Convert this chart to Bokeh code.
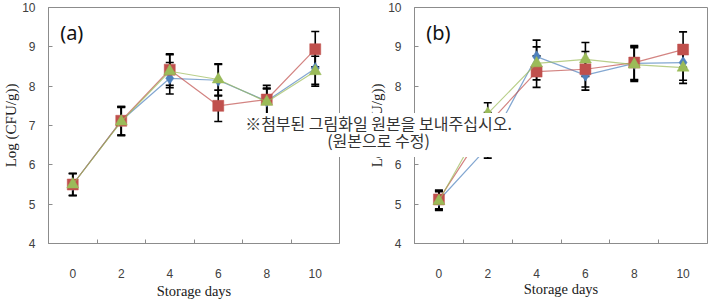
from bokeh.plotting import figure
from bokeh.models import Range1d, FixedTicker, Whisker, ColumnDataSource, Label, TeeHead, Div
from bokeh.layouts import row
from bokeh.embed import file_html
from bokeh.resources import INLINE

# ---- data -------------------------------------------------------------
days = [0, 2, 4, 6, 8, 10]
between_ticks = [1, 3, 5, 7, 9]
y_ticks = [4, 5, 6, 7, 8, 9, 10]

# panel (a): mean log counts and error half-widths
a_blue = [5.50, 7.12, 8.20, 8.15, 7.62, 8.45]
a_blue_err = [0.28, 0.36, 0.40, 0.40, 0.33, 0.40]
a_red = [5.50, 7.12, 8.42, 7.50, 7.66, 8.94]
a_red_err = [0.28, 0.36, 0.40, 0.40, 0.36, 0.45]
a_green = [5.50, 7.10, 8.38, 8.17, 7.60, 8.38]
a_green_err = [0.28, 0.36, 0.42, 0.40, 0.33, 0.38]

# panel (b)
b_blue = [5.10, 6.45, 8.75, 8.28, 8.58, 8.60]
b_blue_err = [0.24, 0.28, 0.42, 0.38, 0.43, 0.45]
b_red = [5.12, 7.03, 8.37, 8.43, 8.60, 8.93]
b_red_err = [0.24, 0.30, 0.40, 0.45, 0.43, 0.45]
b_green = [5.08, 7.30, 8.58, 8.68, 8.55, 8.47]
b_green_err = [0.24, 0.28, 0.42, 0.43, 0.43, 0.40]

x_title = "Storage days"
y_title = "Log (CFU/g))"
note_lines = ["※첨부된 그림화일 원본을 보내주십시오.", "(원본으로 수정)"]

# ---- styling ----------------------------------------------------------
BLUE, RED, GREEN = "#4F81BD", "#C0504D", "#9BBB59"
FRAME = "#8C8C8C"
TICK_TXT = "#404040"
TOTAL_H = 301


def make_panel(tag, series, width, left, right, bottom, title_standoff):
    p = figure(width=width, height=TOTAL_H, title=None,
               x_range=Range1d(-1, 11), y_range=Range1d(4, 10),
               min_border_left=left, min_border_right=right,
               min_border_top=7, min_border_bottom=bottom,
               toolbar_location=None, output_backend="svg")
    p.background_fill_color = "white"
    p.border_fill_color = "white"
    p.outline_line_color = FRAME
    p.xgrid.visible = False
    p.ygrid.visible = False

    xa = p.xaxis[0]
    xa.ticker = FixedTicker(ticks=days, minor_ticks=between_ticks)
    xa.major_tick_in = 0
    xa.major_tick_out = 0
    xa.minor_tick_in = 4
    xa.minor_tick_out = 0
    xa.minor_tick_line_color = FRAME
    xa.axis_line_color = FRAME
    xa.major_label_standoff = 25
    xa.major_label_text_font = "Liberation Sans"
    xa.major_label_text_font_size = "12px"
    xa.major_label_text_color = TICK_TXT
    xa.axis_label = x_title
    xa.axis_label_text_font = "Liberation Serif"
    xa.axis_label_text_font_style = "normal"
    xa.axis_label_text_font_size = "14.5px"
    xa.axis_label_text_color = "#202020"
    xa.axis_label_standoff = title_standoff

    ya = p.yaxis[0]
    ya.ticker = FixedTicker(ticks=y_ticks, minor_ticks=[])
    ya.major_tick_in = 4
    ya.major_tick_out = 0
    ya.major_tick_line_color = FRAME
    ya.axis_line_color = FRAME
    ya.major_label_standoff = 13
    ya.major_label_text_font = "Liberation Sans"
    ya.major_label_text_font_size = "12px"
    ya.major_label_text_color = TICK_TXT
    ya.axis_label = y_title
    ya.axis_label_text_font = "Liberation Serif"
    ya.axis_label_text_font_style = "normal"
    ya.axis_label_text_font_size = "15px"
    ya.axis_label_text_color = "#202020"
    ya.axis_label_standoff = 0

    markers = {"blue": ("diamond", 12), "red": ("square", 11), "green": ("triangle", 12)}
    colors = {"blue": BLUE, "red": RED, "green": GREEN}
    for name, means, errs in series:
        src = ColumnDataSource(dict(
            x=days, y=means,
            lo=[m - e for m, e in zip(means, errs)],
            hi=[m + e for m, e in zip(means, errs)],
        ))
        w = Whisker(source=src, base="x", lower="lo", upper="hi",
                    line_color="black", line_width=1.6,
                    upper_head=TeeHead(size=8, line_color="black", line_width=1.6),
                    lower_head=TeeHead(size=8, line_color="black", line_width=1.6))
        p.add_layout(w)
        c = colors[name]
        p.line("x", "y", source=src, line_color=c, line_width=1.2, line_alpha=0.7)
        mk, sz = markers[name]
        p.scatter("x", "y", source=src, marker=mk, size=sz,
                  fill_color=c, line_color=c, line_width=0.5)

    p.add_layout(Label(x=-0.52, y=9.37, text=tag, text_font="Noto Sans",
                       text_font_size="20px", text_color="#111111",
                       text_baseline="middle", text_align="left"))
    return p


W_A = 360
pa = make_panel("(a)", [("blue", a_blue, a_blue_err), ("red", a_red, a_red_err),
                         ("green", a_green, a_green_err)],
                width=W_A, left=43, right=21, bottom=57, title_standoff=2)
pb = make_panel("(b)", [("blue", b_blue, b_blue_err), ("red", b_red, b_red_err),
                         ("green", b_green, b_green_err)],
                width=710 - W_A, left=54, right=3, bottom=58, title_standoff=0)

# white note box laid over both panels
note = Div(
    text="<br>".join(note_lines),
    width=283, height=44,
    styles={
        "position": "absolute",
        "left": "232px",
        "top": "108px",
        "width": "283px",
        "height": "44px",
        "box-sizing": "border-box",
        "padding-top": "2px",
        "background-color": "white",
        "font-family": "'Noto Sans CJK KR', sans-serif",
        "font-size": "16px",
        "line-height": "17px",
        "text-align": "center",
        "color": "#333333",
        "z-index": "10",
        "white-space": "nowrap",
    },
)

layout = row(pa, pb, note)
open("out.html", "w").write(file_html(layout, INLINE))
